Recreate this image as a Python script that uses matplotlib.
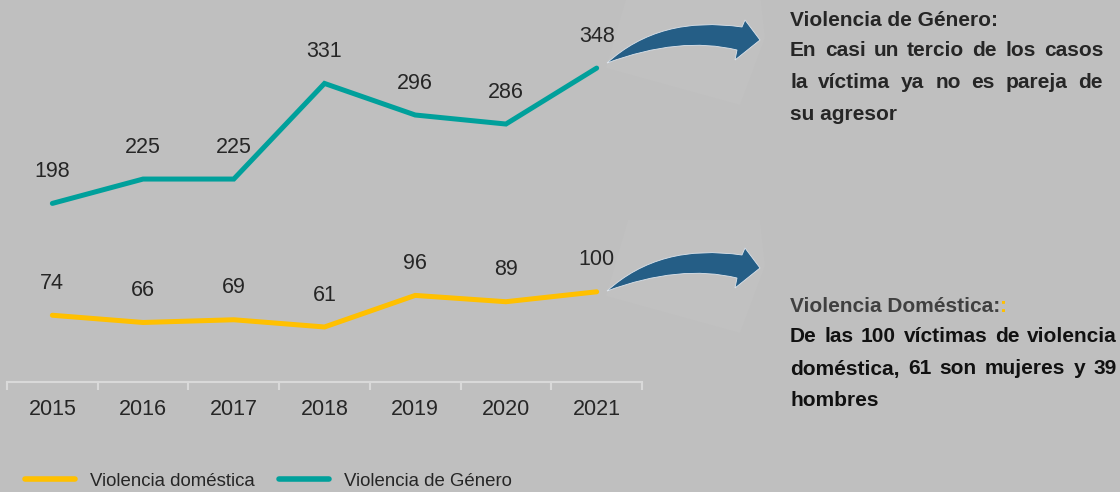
import matplotlib.pyplot as plt
from matplotlib.path import Path
from matplotlib.patches import PathPatch, Polygon

# data
years = ['2015', '2016', '2017', '2018', '2019', '2020', '2021']
domestica = [74, 66, 69, 61, 96, 89, 100]
genero = [198, 225, 225, 331, 296, 286, 348]

W, H = 1120, 492
BG = '#bfbfbf'
TEXT = '#262626'
YELLOW = '#ffc000'
TEAL = '#00a09b'
AXIS = '#d9d9d9'
ARROW = '#255e86'

plt.rcParams['font.family'] = ['Liberation Sans', 'DejaVu Sans']

fig = plt.figure(figsize=(W / 100, H / 100), dpi=100, facecolor=BG)
ax = fig.add_axes([7 / W, 110 / H, 635 / W, 382 / H])
ax.set_facecolor('none')

x = list(range(len(years)))
l_dom, = ax.plot(x, domestica, color=YELLOW, lw=3.6, solid_capstyle='round',
                 solid_joinstyle='miter', label='Violencia doméstica')
l_gen, = ax.plot(x, genero, color=TEAL, lw=3.6, solid_capstyle='round',
                 solid_joinstyle='miter', label='Violencia de Género')

for series in (domestica, genero):
    for i, v in enumerate(series):
        ax.annotate(str(v), (i, v), xytext=(0, 23), textcoords='offset points',
                    ha='center', va='center', fontsize=15.5, color=TEXT)

ax.set_xlim(-0.5, 6.5)
ax.set_ylim(0, 382 / 0.902)
ax.set_xticks(x, years)
ax.set_xticks([i - 0.5 for i in range(len(years) + 1)], minor=True)
ax.set_yticks([])
ax.tick_params(axis='x', which='major', length=0, pad=12, labelsize=15.5, labelcolor=TEXT)
ax.tick_params(axis='x', which='minor', length=6, width=1.5, color=AXIS)
for s in ('top', 'left', 'right'):
    ax.spines[s].set_visible(False)
ax.spines['bottom'].set_color(AXIS)
ax.spines['bottom'].set_linewidth(1.5)

leg = ax.legend(handles=[l_dom, l_gen], loc='center left',
                bbox_to_anchor=(25 / W, 1 - 481 / H), bbox_transform=fig.transFigure,
                ncol=2, frameon=False, fontsize=13.4, handlelength=2.7,
                handletextpad=0.8, columnspacing=1.3, borderpad=0,
                borderaxespad=0, labelcolor=TEXT)
for ln in leg.get_lines():
    ln.set_linewidth(4)


def fy(py):
    return 1 - py / H


# curved arrows with their lighter backing shape
def add_arrow(dy):
    back = [(628, -8), (760, -8), (765, 38), (740, 105), (606, 68)]
    fig.add_artist(Polygon([(px / W, fy(py + dy)) for px, py in back], closed=True,
                           transform=fig.transFigure, facecolor='#c1c1c1',
                           edgecolor='none', zorder=0.5))
    pts = [(607, 63), (660, 15), (742, 27), (745, 20), (760, 40), (735, 60),
           (737, 50), (680, 36), (607, 63)]
    codes = [Path.MOVETO, Path.CURVE3, Path.CURVE3, Path.LINETO, Path.LINETO,
             Path.LINETO, Path.LINETO, Path.CURVE3, Path.CURVE3]
    path = Path([(px / W, fy(py + dy)) for px, py in pts], codes)
    fig.add_artist(PathPatch(path, transform=fig.transFigure, facecolor=ARROW,
                             edgecolor='#dde3ea', lw=0.6, zorder=1))


add_arrow(0)
add_arrow(228)

fig.canvas.draw()
renderer = fig.canvas.get_renderer()


def put_line(text, x0, y, x1=None, **kw):
    if x1 is None:
        t = fig.text(x0 / W, fy(y), text, va='center', ha='left', **kw)
        return x0 + t.get_window_extent(renderer).width
    words = text.split()
    items = [fig.text(0, fy(y), w, va='center', ha='left', **kw) for w in words]
    widths = [t.get_window_extent(renderer).width for t in items]
    gap = (x1 - x0 - sum(widths)) / (len(words) - 1)
    pos = x0
    for t, w in zip(items, widths):
        t.set_x(pos / W)
        pos += w + gap
    return x1


fs = 15
put_line('Violencia de Género:', 790, 20, fontsize=fs, weight='bold', color=TEXT)
put_line('En casi un tercio de los casos', 790, 51, 1103, fontsize=fs, weight='bold', color=TEXT)
put_line('la víctima ya no es pareja de', 790, 82, 1103, fontsize=fs, weight='bold', color=TEXT)
put_line('su agresor', 790, 114, fontsize=fs, weight='bold', color=TEXT)

end = put_line('Violencia Doméstica:', 790, 306, fontsize=fs, weight='bold', color='#404040')
put_line(':', end, 306, fontsize=fs, weight='bold', color=YELLOW)
put_line('De las 100 víctimas de violencia', 790, 337, 1117, fontsize=fs, weight='bold', color='#111111')
put_line('doméstica, 61 son mujeres y 39', 790, 369, 1117, fontsize=fs, weight='bold', color='#111111')
put_line('hombres', 790, 401, fontsize=fs, weight='bold', color='#111111')

fig.savefig('out.png', facecolor=BG)
